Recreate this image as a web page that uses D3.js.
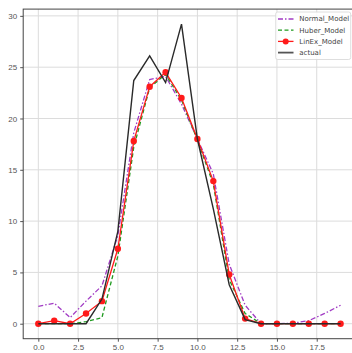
<!DOCTYPE html>
<html>
<head>
<meta charset="utf-8">
<script src="https://cdn.jsdelivr.net/npm/d3@7"></script>
<style>
  body { margin: 0; background: #fff; }
  svg { display: block; font-family: "DejaVu Sans", sans-serif; }
</style>
</head>
<body>
<script>
// data
const xs = [0, 1, 2, 3, 4, 5, 6, 7, 8, 9, 10, 11, 12, 13, 14, 15, 16, 17, 18, 19];
const normalModel = [1.7, 2.0, 0.6, 2.2, 3.7, 8.6, 18.6, 23.8, 24.1, 21.4, 18.0, 14.6, 5.8, 1.8, 0.0, 0.0, 0.05, 0.3, 1.0, 1.8];
const huberModel = [0, 0, 0, 0.2, 0.6, 6.6, 17.2, 23.0, 24.3, 21.8, 17.9, 13.6, 4.3, 1.0, 0, 0, 0, 0, 0, 0];
const linexModel = [0, 0.3, 0, 1.0, 2.2, 7.3, 17.8, 23.1, 24.5, 22.0, 18.0, 13.9, 4.8, 0.5, 0, 0, 0, 0, 0, 0];
const actual = [0, 0, 0, 0, 2.4, 9.0, 23.7, 26.1, 23.5, 29.2, 18.0, 11.2, 3.8, 0.4, 0, 0, 0, 0, 0, 0];
const xTicks = [0, 2.5, 5, 7.5, 10, 12.5, 15, 17.5];
const yTicks = [0, 5, 10, 15, 20, 25, 30];

const W = 352, H = 353;
const m = { left: 23.2, top: 9.1, right: 355.7, bottom: 338.7 };

const svg = d3.select('body').append('svg')
  .attr('width', W).attr('height', H);

const x = d3.scaleLinear().domain([-0.95, 19.95]).range([m.left, m.right]);
const y = d3.scaleLinear().domain([-1.46, 30.66]).range([m.bottom, m.top]);

// grid
svg.append('g')
  .selectAll('line').data(xTicks).enter().append('line')
  .attr('x1', d => x(d)).attr('x2', d => x(d))
  .attr('y1', m.top).attr('y2', m.bottom)
  .attr('stroke', '#dcdcdc').attr('stroke-width', 1);
svg.append('g')
  .selectAll('line').data(yTicks).enter().append('line')
  .attr('x1', m.left).attr('x2', m.right)
  .attr('y1', d => y(d)).attr('y2', d => y(d))
  .attr('stroke', '#dcdcdc').attr('stroke-width', 1);

// axes
const xAxis = svg.append('g')
  .attr('transform', `translate(0,${m.bottom})`)
  .call(d3.axisBottom(x).tickValues(xTicks).tickFormat(d3.format('.1f')).tickSize(3).tickPadding(3));
const yAxis = svg.append('g')
  .attr('transform', `translate(${m.left},0)`)
  .call(d3.axisLeft(y).tickValues(yTicks).tickFormat(d3.format('d')).tickSize(3).tickPadding(3));
[xAxis, yAxis].forEach(a => {
  a.select('.domain').remove();
  a.selectAll('line').attr('stroke', '#555');
  a.selectAll('text').attr('fill', '#555').style('font-size', '8px');
});

// spines
svg.append('rect')
  .attr('x', m.left).attr('y', m.top)
  .attr('width', m.right - m.left).attr('height', m.bottom - m.top)
  .attr('fill', 'none').attr('stroke', '#444').attr('stroke-width', 1);

const line = d3.line()
  .x((d, i) => x(xs[i]))
  .y(d => y(d));

svg.append('path').datum(normalModel)
  .attr('d', line).attr('fill', 'none')
  .attr('stroke', '#a13bc4').attr('stroke-width', 1.3)
  .attr('stroke-dasharray', '5,2,1.5,2');
svg.append('path').datum(huberModel)
  .attr('d', line).attr('fill', 'none')
  .attr('stroke', '#1e9a1e').attr('stroke-width', 1.3)
  .attr('stroke-dasharray', '4,2.5');
svg.append('path').datum(linexModel)
  .attr('d', line).attr('fill', 'none')
  .attr('stroke', '#ff1a1a').attr('stroke-width', 1.3);
svg.append('g').selectAll('circle').data(linexModel).enter().append('circle')
  .attr('cx', (d, i) => x(xs[i])).attr('cy', d => y(d))
  .attr('r', 3.2).attr('fill', '#ff1a1a');
svg.append('path').datum(actual)
  .attr('d', line).attr('fill', 'none')
  .attr('stroke', '#2a2a2a').attr('stroke-width', 1.4);

// legend
const legendItems = [
  { name: 'Normal_Model', color: '#a13bc4', dash: '5,2,1.5,2', marker: false },
  { name: 'Huber_Model', color: '#1e9a1e', dash: '4,2.5', marker: false },
  { name: 'LinEx_Model', color: '#ff1a1a', dash: null, marker: true },
  { name: 'actual', color: '#555', dash: null, marker: false }
];
const lg = svg.append('g');
lg.append('rect')
  .attr('x', 275.7).attr('y', 12).attr('width', 75).attr('height', 47.5)
  .attr('rx', 2).attr('fill', 'rgba(255,255,255,0.85)')
  .attr('stroke', '#d6d6d6').attr('stroke-width', 0.8);
legendItems.forEach((it, i) => {
  const yy = 19 + i * 11.2;
  lg.append('line')
    .attr('x1', 278).attr('x2', 293.5).attr('y1', yy).attr('y2', yy)
    .attr('stroke', it.color).attr('stroke-width', i === 3 ? 1.8 : 1.3)
    .attr('stroke-dasharray', it.dash);
  if (it.marker) {
    lg.append('circle').attr('cx', 285.7).attr('cy', yy).attr('r', 3).attr('fill', it.color);
  }
  lg.append('text')
    .attr('x', 299.3).attr('y', yy).attr('dy', '0.35em')
    .attr('fill', '#444').style('font-size', '7px')
    .text(it.name);
});
</script>
</body>
</html>
